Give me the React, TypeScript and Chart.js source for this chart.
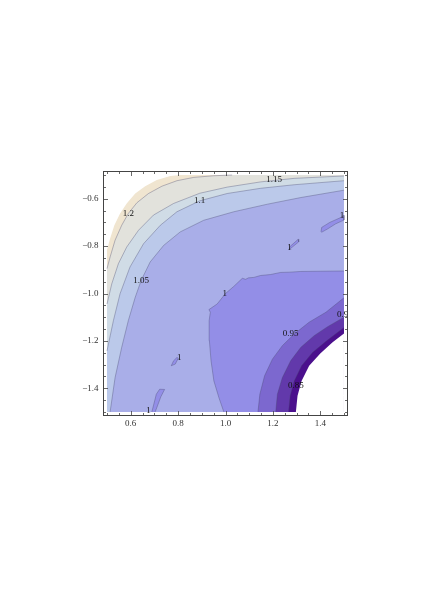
import React, { useEffect, useRef } from 'react';
import { Chart, registerables } from 'chart.js';

Chart.register(...registerables);

type P = [number, number];

// axis ranges (frame) and plotted domain
const xRange = [0.483, 1.517];
const yRange = [-1.517, -0.483];
const domainX = [0.5, 1.5];
const domainY = [-1.5, -0.5];

// tick values
const xMajorTicks = [0.6, 0.8, 1.0, 1.2, 1.4];
const xMajorLabels = ['0.6', '0.8', '1.0', '1.2', '1.4'];
const yMajorTicks = [-0.6, -0.8, -1.0, -1.2, -1.4];
const yMajorLabels = ['\u22120.6', '\u22120.8', '\u22121.0', '\u22121.2', '\u22121.4'];
const xMinorTicks = [0.5, 0.55, 0.65, 0.7, 0.75, 0.85, 0.9, 0.95, 1.05, 1.1, 1.15, 1.25, 1.3, 1.35, 1.45, 1.5];
const yMinorTicks = [-0.5, -0.55, -0.65, -0.7, -0.75, -0.85, -0.9, -0.95, -1.05, -1.1, -1.15, -1.25, -1.3, -1.35, -1.45, -1.5];

// contour lines (upper-left family)
const contour125: P[] = [
  [0.5, -0.815], [0.513, -0.768], [0.531, -0.712], [0.555, -0.662], [0.583, -0.62],
  [0.619, -0.578], [0.661, -0.547], [0.71, -0.521], [0.767, -0.504], [0.809, -0.5],
];
const contour120: P[] = [
  [0.5, -0.895], [0.513, -0.846], [0.534, -0.775], [0.562, -0.712], [0.59, -0.662],
  [0.626, -0.617], [0.675, -0.578], [0.732, -0.547], [0.795, -0.524], [0.866, -0.51],
  [0.951, -0.503], [1.028, -0.5],
];
const contour115: P[] = [
  [0.5, -1.044], [0.52, -0.959], [0.548, -0.874], [0.583, -0.804], [0.633, -0.733],
  [0.696, -0.669], [0.781, -0.62], [0.891, -0.577], [1.007, -0.551], [1.148, -0.529],
  [1.29, -0.514], [1.5, -0.504],
];
const contour110: P[] = [
  [0.5, -1.242], [0.527, -1.114], [0.555, -1.001], [0.597, -0.888], [0.654, -0.79],
  [0.725, -0.712], [0.795, -0.655], [0.891, -0.609], [1.007, -0.578], [1.148, -0.556],
  [1.29, -0.541], [1.5, -0.524],
];
const contour105: P[] = [
  [0.513, -1.5], [0.534, -1.355], [0.562, -1.227], [0.59, -1.114], [0.619, -1.016],
  [0.644, -0.945], [0.682, -0.867], [0.739, -0.797], [0.809, -0.74], [0.908, -0.691],
  [1.035, -0.655], [1.177, -0.623], [1.318, -0.595], [1.5, -0.564],
];
// contour lines (lower-right family)
const contour100: P[] = [
  [0.993, -1.5], [0.972, -1.439], [0.951, -1.369], [0.939, -1.284], [0.932, -1.199],
  [0.931, -1.114], [0.936, -1.079], [0.93, -1.068], [0.965, -1.044], [1.0, -1.0],
  [1.035, -0.97], [1.071, -0.936], [1.085, -0.94], [1.097, -0.934], [1.12, -0.932],
  [1.148, -0.924], [1.19, -0.92], [1.233, -0.911], [1.27, -0.91], [1.318, -0.907],
  [1.4, -0.906], [1.5, -0.905],
];
const contour095: P[] = [
  [1.137, -1.5], [1.145, -1.425], [1.165, -1.347], [1.198, -1.277], [1.24, -1.22],
  [1.29, -1.171], [1.353, -1.121], [1.424, -1.079], [1.5, -1.018],
];
const contour090: P[] = [
  [1.212, -1.5], [1.219, -1.425], [1.24, -1.355], [1.275, -1.284], [1.318, -1.227],
  [1.374, -1.178], [1.431, -1.14], [1.5, -1.1],
];
const contour085: P[] = [
  [1.266, -1.5], [1.273, -1.432], [1.29, -1.369], [1.321, -1.305], [1.367, -1.249],
  [1.424, -1.202], [1.5, -1.143],
];
const contour080: P[] = [
  [1.297, -1.5], [1.304, -1.432], [1.321, -1.369], [1.353, -1.305], [1.4, -1.253],
  [1.452, -1.206], [1.5, -1.169],
];
// small islands below 1
const island1: P[] = [
  [1.403, -0.74], [1.406, -0.721], [1.44, -0.7], [1.487, -0.679], [1.5, -0.67],
  [1.5, -0.69], [1.465, -0.706], [1.43, -0.728], [1.405, -0.742],
];
const island2: P[] = [
  [1.268, -0.815], [1.273, -0.801], [1.307, -0.771], [1.309, -0.782], [1.282, -0.804], [1.268, -0.815],
];
const island3: P[] = [
  [0.771, -1.305], [0.781, -1.284], [0.795, -1.27], [0.801, -1.273], [0.788, -1.298], [0.771, -1.305],
];
const island4: P[] = [
  [0.689, -1.5], [0.701, -1.453], [0.708, -1.425], [0.722, -1.404], [0.743, -1.405],
  [0.727, -1.436], [0.71, -1.482], [0.703, -1.5],
];

// contour labels
const labelTexts = ['1.2', '1.1', '1.15', '1.05', '1', '1', '1', '1', '1', '0.95', '0.9', '0.85'];
const labelX = [0.59, 0.891, 1.205, 0.644, 0.997, 1.492, 1.27, 0.805, 0.675, 1.275, 1.494, 1.297];
const labelY = [-0.662, -0.609, -0.518, -0.945, -1.001, -0.672, -0.806, -1.27, -1.493, -1.171, -1.089, -1.39];

// colours
const colBase = '#A9AEE8';
const colAbove105 = '#BBC9EA';
const colAbove110 = '#D0DCE6';
const colAbove115 = '#E2E2DC';
const colAbove120 = '#F0E5D0';
const colClip = '#FFFFFF';
const colBelow100 = '#938EE7';
const colBelow095 = '#7C68CF';
const colBelow090 = '#6239AB';
const colBelow085 = '#4B108D';
const lineColor = 'rgba(70,70,110,0.45)';

const toXY = (pts: P[]) => pts.map(([x, y]) => ({ x, y }));

const overlayPlugin = {
  id: 'mmaFrame',
  afterDatasetsDraw(chart: any) {
    const { ctx, scales } = chart;
    const xs = scales.x;
    const ys = scales.y;
    ctx.save();
    ctx.font = '9px "Liberation Serif", "DejaVu Serif", serif';
    ctx.fillStyle = '#111';
    ctx.textAlign = 'center';
    ctx.textBaseline = 'middle';
    for (let i = 0; i < labelTexts.length; i++) {
      ctx.fillText(labelTexts[i], xs.getPixelForValue(labelX[i]), ys.getPixelForValue(labelY[i]));
    }
    ctx.restore();
  },
  afterDraw(chart: any) {
    const { ctx, chartArea: a, scales } = chart;
    const xs = scales.x;
    const ys = scales.y;
    ctx.save();
    ctx.strokeStyle = '#444';
    ctx.lineWidth = 1;
    const L = Math.round(a.left) + 0.5;
    const R = Math.round(a.right) - 0.5;
    const T = Math.round(a.top) + 0.5;
    const B = Math.round(a.bottom) - 0.5;
    ctx.strokeRect(L, T, R - L, B - T);
    const drawX = (v: number, len: number) => {
      const px = Math.round(xs.getPixelForValue(v)) + 0.5;
      ctx.beginPath();
      ctx.moveTo(px, B); ctx.lineTo(px, B - len);
      ctx.moveTo(px, T); ctx.lineTo(px, T + len);
      ctx.stroke();
    };
    const drawY = (v: number, len: number) => {
      const py = Math.round(ys.getPixelForValue(v)) + 0.5;
      ctx.beginPath();
      ctx.moveTo(L, py); ctx.lineTo(L + len, py);
      ctx.moveTo(R, py); ctx.lineTo(R - len, py);
      ctx.stroke();
    };
    ctx.lineWidth = 0.8;
    xMinorTicks.forEach((v) => drawX(v, 2.5));
    yMinorTicks.forEach((v) => drawY(v, 2.5));
    xMajorTicks.forEach((v) => drawX(v, 4.5));
    yMajorTicks.forEach((v) => drawY(v, 4.5));
    ctx.fillStyle = '#333';
    ctx.font = '9px "Liberation Serif", "DejaVu Serif", serif';
    ctx.textAlign = 'center';
    ctx.textBaseline = 'top';
    xMajorTicks.forEach((v, i) => ctx.fillText(xMajorLabels[i], xs.getPixelForValue(v), a.bottom + 3));
    ctx.textAlign = 'right';
    ctx.textBaseline = 'middle';
    yMajorTicks.forEach((v, i) => ctx.fillText(yMajorLabels[i], a.left - 4.5, ys.getPixelForValue(v)));
    ctx.restore();
  },
};

export default function App() {
  const ref = useRef<HTMLCanvasElement | null>(null);
  useEffect(() => {
    if (!ref.current) return;
    const x0 = domainX[0], x1 = domainX[1], y0 = domainY[0], y1 = domainY[1];
    const regions: { pts: P[]; color: string; line: boolean }[] = [
      { pts: [[x0, y0], [x1, y0], [x1, y1], [x0, y1]], color: colBase, line: false },
      { pts: [...contour105, [x1, y1], [x0, y1], [x0, y0]], color: colAbove105, line: false },
      { pts: [...contour110, [x1, y1], [x0, y1]], color: colAbove110, line: false },
      { pts: [...contour115, [x1, y1], [x0, y1]], color: colAbove115, line: false },
      { pts: [...contour120, [x0, y1]], color: colAbove120, line: false },
      { pts: [...contour125, [x0, y1]], color: colClip, line: false },
      { pts: [...contour100, [x1, y0]], color: colBelow100, line: false },
      { pts: [...contour095, [x1, y0]], color: colBelow095, line: false },
      { pts: [...contour090, [x1, y0]], color: colBelow090, line: false },
      { pts: [...contour085, [x1, y0]], color: colBelow085, line: false },
      { pts: [...contour080, [x1, y0]], color: colClip, line: false },
      { pts: island1, color: colBelow100, line: false },
      { pts: island2, color: colBelow100, line: false },
      { pts: island3, color: colBelow100, line: false },
      { pts: island4, color: colBelow100, line: false },
    ];
    const lines: P[][] = [contour120, contour115, contour110, contour105, contour100, contour095, contour090, contour085, island1, island2, island3, island4];
    const datasets: any[] = [];
    regions.forEach((r) => {
      datasets.push({
        data: toXY(r.pts),
        fill: 'shape',
        backgroundColor: r.color,
        borderWidth: 0,
        borderColor: 'rgba(0,0,0,0)',
        pointRadius: 0,
        tension: 0,
      });
    });
    lines.forEach((l) => {
      datasets.push({
        data: toXY(l),
        fill: false,
        borderColor: lineColor,
        borderWidth: 0.8,
        pointRadius: 0,
        tension: 0,
      });
    });
    const n = datasets.length;
    datasets.forEach((d, i) => (d.order = n - i));

    const chart = new Chart(ref.current, {
      type: 'line',
      data: { datasets },
      options: {
        responsive: false,
        animation: false,
        devicePixelRatio: 1,
        parsing: true,
        layout: { padding: { left: 103, top: 171, right: 88, bottom: 200 } },
        plugins: { legend: { display: false }, tooltip: { enabled: false } },
        events: [],
        scales: {
          x: { type: 'linear', min: xRange[0], max: xRange[1], display: false },
          y: { type: 'linear', min: yRange[0], max: yRange[1], display: false },
        },
      },
      plugins: [overlayPlugin],
    } as any);
    return () => chart.destroy();
  }, []);
  return (
    <div style={{ position: 'absolute', left: 0, top: 0, width: 436, height: 616, background: '#fff' }}>
      <canvas ref={ref} width={436} height={616} style={{ display: 'block' }} />
    </div>
  );
}
